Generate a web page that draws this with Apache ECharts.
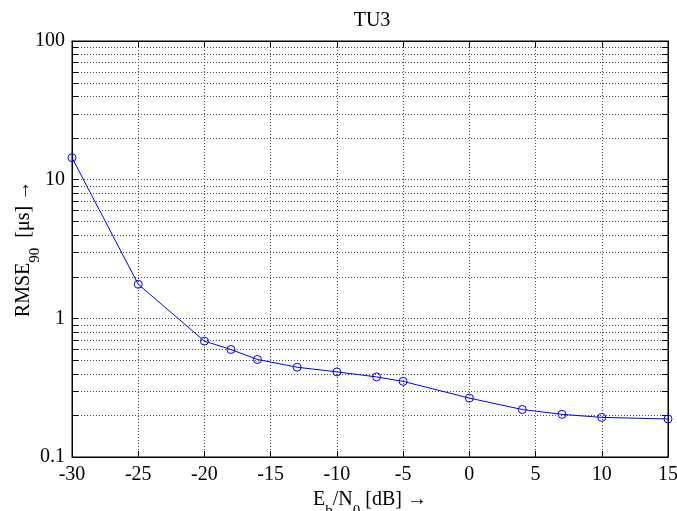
<!DOCTYPE html>
<html><head><meta charset="utf-8">
<script src="https://cdn.jsdelivr.net/npm/echarts@6/dist/echarts.min.js"></script>
<style>html,body{margin:0;padding:0;background:#fff}#c{width:677px;height:511px}</style>
</head><body><div id="c"></div>
<script>
const ebn0 = [-30, -25, -20, -18, -16, -13, -10, -7, -5, 0, 4, 7, 10, 15];
const rmse90 = [14.4, 1.76, 0.685, 0.596, 0.505, 0.444, 0.411, 0.378, 0.351, 0.266, 0.220, 0.203, 0.193, 0.188];
const xTicks = [-30, -25, -20, -15, -10, -5, 0, 5, 10, 15];
const yTickLabels = {0.1: '0.1', 1: '1', 10: '10', 100: '100'};
const yMinorTicks = [0.2, 0.3, 0.4, 0.5, 0.6, 0.7, 0.8, 0.9, 2, 3, 4, 5, 6, 7, 8, 9, 20, 30, 40, 50, 60, 70, 80, 90];

const FONT = '"Liberation Serif", "DejaVu Serif", serif';
const chart = echarts.init(document.getElementById('c'), null, {renderer: 'canvas'});
const gridDot = {color: '#444', width: 1, type: [1, 2]};
const richName = {
  n: {fontFamily: FONT, fontSize: 20, color: '#000', lineHeight: 24},
  s: {fontFamily: FONT, fontSize: 15, color: '#000', lineHeight: 24, padding: [22, 0, 0, 0]}
};

chart.setOption({
  animation: false,
  backgroundColor: '#fff',
  title: {text: 'TU3', left: 367, textAlign: 'center', top: 6, textStyle: {fontFamily: FONT, fontSize: 20, fontWeight: 'normal', color: '#000'}},
  grid: {left: 72, right: 9, top: 41, bottom: 54, containLabel: false, outerBoundsMode: 'none', show: true, borderColor: '#000', borderWidth: 1, backgroundColor: 'transparent'},
  xAxis: [{
    type: 'value', min: xTicks[0], max: xTicks[xTicks.length - 1], interval: 5, position: 'bottom',
    axisLine: {show: true, onZero: false, lineStyle: {color: '#000', width: 1}},
    axisTick: {show: true, inside: true, length: 6, lineStyle: {color: '#000'}},
    axisLabel: {color: '#000', fontFamily: FONT, fontSize: 20, margin: 8},
    splitLine: {show: true, lineStyle: gridDot},
    name: '{n|E}{s|b}{n|/N}{s|0}{n| [dB] →}', nameLocation: 'middle', nameGap: 31, nameMoveOverlap: false,
    nameTextStyle: {rich: richName}
  }, {
    type: 'value', min: xTicks[0], max: xTicks[xTicks.length - 1], interval: 5, position: 'top',
    axisLine: {show: true, onZero: false, lineStyle: {color: '#000', width: 1}},
    axisTick: {show: true, inside: true, length: 6, lineStyle: {color: '#000'}},
    axisLabel: {show: false}, splitLine: {show: false}
  }],
  yAxis: [{
    type: 'log', logBase: 10, min: 0.1, max: 100, position: 'left',
    axisLine: {show: true, onZero: false, lineStyle: {color: '#000', width: 1}},
    axisTick: {show: true, inside: true, length: 6, lineStyle: {color: '#000'}},
    axisLabel: {color: '#000', fontFamily: FONT, fontSize: 20, margin: 7, padding: [5, 0, 0, 0],
      formatter: v => yTickLabels[+(+v).toPrecision(3)] || String(v)},
    splitLine: {show: true, lineStyle: gridDot},
    name: '{n|RMSE}{s|90}{n|  [μs] →}', nameLocation: 'middle', nameRotate: 90, nameGap: 36, nameMoveOverlap: false,
    nameTextStyle: {rich: richName}
  }, {
    type: 'log', logBase: 10, min: 0.1, max: 100, position: 'right',
    axisLine: {show: true, onZero: false, lineStyle: {color: '#000', width: 1}},
    axisTick: {show: true, inside: true, length: 6, lineStyle: {color: '#000'}},
    axisLabel: {show: false}, splitLine: {show: false}
  }],
  series: [{
    type: 'custom', silent: true, z: 1,
    xAxisIndex: 0, yAxisIndex: 0,
    data: yMinorTicks.map(v => [xTicks[0], v]),
    encode: {x: 0, y: 1},
    renderItem: function (params, api) {
      const cs = params.coordSys;
      const y = Math.round(api.coord([api.value(0), api.value(1)])[1]) + 0.5;
      return {type: 'group', children: [
        {type: 'line', shape: {x1: cs.x, y1: y, x2: cs.x + cs.width, y2: y}, style: {stroke: '#444', lineWidth: 1, lineDash: [1, 2]}},
        {type: 'line', shape: {x1: cs.x, y1: y, x2: cs.x + 6, y2: y}, style: {stroke: '#000', lineWidth: 1}},
        {type: 'line', shape: {x1: cs.x + cs.width - 6, y1: y, x2: cs.x + cs.width, y2: y}, style: {stroke: '#000', lineWidth: 1}}
      ]};
    }
  }, {
    type: 'line', z: 5, xAxisIndex: 0, yAxisIndex: 0,
    data: ebn0.map((x, i) => [x, rmse90[i]]),
    lineStyle: {color: '#0000ff', width: 1},
    itemStyle: {color: 'rgba(255,255,255,0)', borderColor: '#0000ff', borderWidth: 1},
    symbol: 'circle', symbolSize: 8, showSymbol: true, silent: true
  }]
});
</script></body></html>
